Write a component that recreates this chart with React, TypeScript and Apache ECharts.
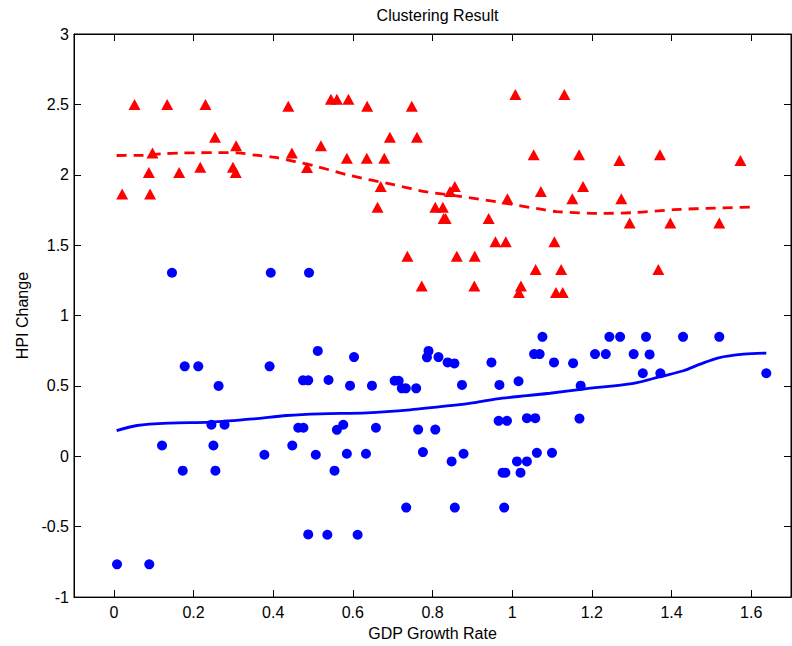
import React, { useEffect, useRef } from "react";
import * as echarts from "echarts";

// Cluster 1 (high HPI change): [GDP growth rate, HPI change]
const clusterHigh: [number, number][] = [
  [0.021, 1.863], [0.052, 2.5], [0.088, 2.016], [0.091, 1.863], [0.097, 2.154],
  [0.134, 2.5], [0.164, 2.016], [0.217, 2.054], [0.23, 2.5], [0.254, 2.267],
  [0.299, 2.054], [0.306, 2.016], [0.307, 2.207], [0.438, 2.486], [0.447, 2.154],
  [0.485, 2.052], [0.52, 2.207], [0.545, 2.536], [0.56, 2.536], [0.589, 2.536],
  [0.585, 2.118], [0.636, 2.486], [0.635, 2.118], [0.662, 1.769], [0.67, 1.917],
  [0.679, 2.118], [0.693, 2.267], [0.737, 1.422], [0.748, 2.486], [0.761, 2.267],
  [0.773, 1.21], [0.807, 1.769], [0.826, 1.769], [0.828, 1.689], [0.833, 1.689],
  [0.844, 1.882], [0.856, 1.917], [0.861, 1.422], [0.905, 1.21], [0.906, 1.422],
  [0.941, 1.689], [0.958, 1.524], [0.984, 1.524], [0.988, 1.83], [1.008, 2.571],
  [1.017, 1.163], [1.022, 1.21], [1.054, 2.142], [1.059, 1.328], [1.072, 1.882],
  [1.106, 1.524], [1.11, 1.163], [1.123, 1.328], [1.127, 1.163], [1.131, 2.571],
  [1.151, 1.83], [1.168, 2.142], [1.178, 1.917], [1.269, 2.101], [1.274, 1.83],
  [1.295, 1.658], [1.367, 1.328], [1.371, 2.142], [1.397, 1.658], [1.52, 1.658],
  [1.573, 2.101],
];

// Cluster 2 (low HPI change)
const clusterLow: [number, number][] = [
  [0.008, -0.767], [0.089, -0.767], [0.121, 0.077], [0.146, 1.304], [0.173, -0.102],
  [0.178, 0.639], [0.212, 0.639], [0.245, 0.224], [0.25, 0.077], [0.255, -0.102],
  [0.263, 0.5], [0.278, 0.224], [0.378, 0.011], [0.391, 0.639], [0.394, 1.304],
  [0.448, 0.077], [0.463, 0.203], [0.476, 0.203], [0.475, 0.54], [0.488, 0.54],
  [0.488, -0.555], [0.49, 1.304], [0.507, 0.011], [0.512, 0.749], [0.536, -0.557],
  [0.539, 0.542], [0.554, -0.102], [0.56, 0.188], [0.576, 0.224], [0.585, 0.018],
  [0.593, 0.502], [0.603, 0.705], [0.612, -0.557], [0.633, 0.018], [0.648, 0.502],
  [0.658, 0.203], [0.705, 0.537], [0.715, 0.537], [0.723, 0.483], [0.733, 0.483],
  [0.734, -0.364], [0.759, 0.483], [0.764, 0.19], [0.776, 0.03], [0.786, 0.703],
  [0.79, 0.749], [0.807, 0.19], [0.815, 0.705], [0.838, 0.667], [0.848, -0.036],
  [0.855, 0.66], [0.856, -0.364], [0.874, 0.507], [0.878, 0.018], [0.948, 0.667],
  [0.966, 0.252], [0.968, 0.507], [0.976, -0.116], [0.98, -0.364], [0.983, -0.116],
  [0.987, 0.252], [1.012, -0.036], [1.016, 0.533], [1.021, -0.116], [1.037, -0.036],
  [1.037, 0.271], [1.055, 0.726], [1.058, 0.271], [1.062, 0.025], [1.069, 0.726],
  [1.076, 0.849], [1.1, 0.025], [1.105, 0.667], [1.153, 0.662], [1.169, 0.268],
  [1.172, 0.502], [1.208, 0.726], [1.235, 0.726], [1.244, 0.849], [1.271, 0.849],
  [1.305, 0.726], [1.328, 0.59], [1.336, 0.849], [1.345, 0.724], [1.372, 0.59],
  [1.429, 0.849], [1.52, 0.849], [1.638, 0.59],
];

// Fitted trend curves for each cluster
const trendHigh: [number, number][] = [
  [0.007, 2.137], [0.07, 2.138], [0.12, 2.149], [0.17, 2.155], [0.21, 2.156],
  [0.26, 2.158], [0.31, 2.156], [0.356, 2.139], [0.405, 2.123], [0.455, 2.094],
  [0.503, 2.064], [0.593, 1.995], [0.702, 1.93], [0.786, 1.878], [0.869, 1.847],
  [0.978, 1.8], [1.079, 1.752], [1.112, 1.738], [1.221, 1.726], [1.305, 1.731],
  [1.405, 1.752], [1.514, 1.764], [1.614, 1.771],
];

const trendLow: [number, number][] = [
  [0.007, 0.183], [0.058, 0.219], [0.141, 0.236], [0.242, 0.243], [0.35, 0.266],
  [0.434, 0.29], [0.518, 0.302], [0.635, 0.309], [0.744, 0.33], [0.844, 0.36],
  [0.911, 0.384], [0.962, 0.408], [1.037, 0.431], [1.095, 0.448], [1.179, 0.478],
  [1.305, 0.519], [1.372, 0.566], [1.43, 0.608], [1.472, 0.655], [1.518, 0.7],
  [1.581, 0.726], [1.638, 0.733],
];

const xTicks = [0, 0.2, 0.4, 0.6, 0.8, 1, 1.2, 1.4, 1.6];
const xMin = -0.1;
const xMax = 1.7;
const yMin = -1;
const yMax = 3;
const yStep = 0.5;

const FONT = "'Liberation Sans', Arial, Helvetica, sans-serif";

export default function App() {
  const ref = useRef<HTMLDivElement>(null);

  useEffect(() => {
    if (!ref.current) return;
    const chart = echarts.init(ref.current, undefined, { renderer: "svg" });

    const tickStyle = { show: true, inside: true, length: 7, lineStyle: { color: "#000", width: 1 } };
    const lineStyle = { show: true, onZero: false, lineStyle: { color: "#000", width: 1 } };
    const labelStyle = { color: "#000", fontSize: 16, fontFamily: FONT };

    chart.setOption({
      animation: false,
      backgroundColor: "#fff",
      title: {
        text: "Clustering Result",
        left: 432.5,
        top: 2,
        textAlign: "center",
        textStyle: { color: "#000", fontSize: 16, fontWeight: "normal", fontFamily: FONT },
      },
      grid: {
        left: 74,
        right: 1,
        top: 34,
        bottom: 47,
        show: true,
        borderColor: "#000",
        borderWidth: 1,
        backgroundColor: "#fff",
      },
      xAxis: [
        {
          type: "value",
          min: xMin,
          max: xMax,
          position: "bottom",
          name: "GDP Growth Rate",
          nameLocation: "middle",
          nameGap: 24,
          nameTextStyle: { color: "#000", fontSize: 16, fontFamily: FONT },
          axisLine: lineStyle,
          axisTick: { ...tickStyle, customValues: xTicks },
          axisLabel: { ...labelStyle, margin: 7, customValues: xTicks },
          splitLine: { show: false },
        },
        {
          type: "value",
          min: xMin,
          max: xMax,
          position: "top",
          axisLine: lineStyle,
          axisTick: { ...tickStyle, customValues: xTicks },
          axisLabel: { show: false },
          splitLine: { show: false },
        },
      ],
      yAxis: [
        {
          type: "value",
          min: yMin,
          max: yMax,
          interval: yStep,
          position: "left",
          name: "HPI Change",
          nameLocation: "middle",
          nameGap: 43,
          nameTextStyle: { color: "#000", fontSize: 16, fontFamily: FONT },
          axisLine: lineStyle,
          axisTick: tickStyle,
          axisLabel: { ...labelStyle, margin: 5 },
          splitLine: { show: false },
        },
        {
          type: "value",
          min: yMin,
          max: yMax,
          interval: yStep,
          position: "right",
          axisLine: lineStyle,
          axisTick: tickStyle,
          axisLabel: { show: false },
          splitLine: { show: false },
        },
      ],
      series: [
        {
          type: "scatter",
          data: clusterHigh,
          symbol: "triangle",
          symbolSize: [12, 11],
          itemStyle: { color: "#ff0000", opacity: 1 },
        },
        {
          type: "scatter",
          data: clusterLow,
          symbol: "circle",
          symbolSize: 10,
          itemStyle: { color: "#0000ff", opacity: 1 },
        },
        {
          type: "line",
          data: trendHigh,
          showSymbol: false,
          smooth: 0.3,
          lineStyle: { color: "#ff0000", width: 2.8, type: [10, 7] },
        },
        {
          type: "line",
          data: trendLow,
          showSymbol: false,
          smooth: 0.3,
          lineStyle: { color: "#0000ff", width: 2.8 },
        },
      ],
    });

    return () => chart.dispose();
  }, []);

  return (
    <div
      ref={ref}
      style={{ position: "fixed", left: 0, top: 0, width: 792, height: 646, background: "#fff" }}
    />
  );
}
